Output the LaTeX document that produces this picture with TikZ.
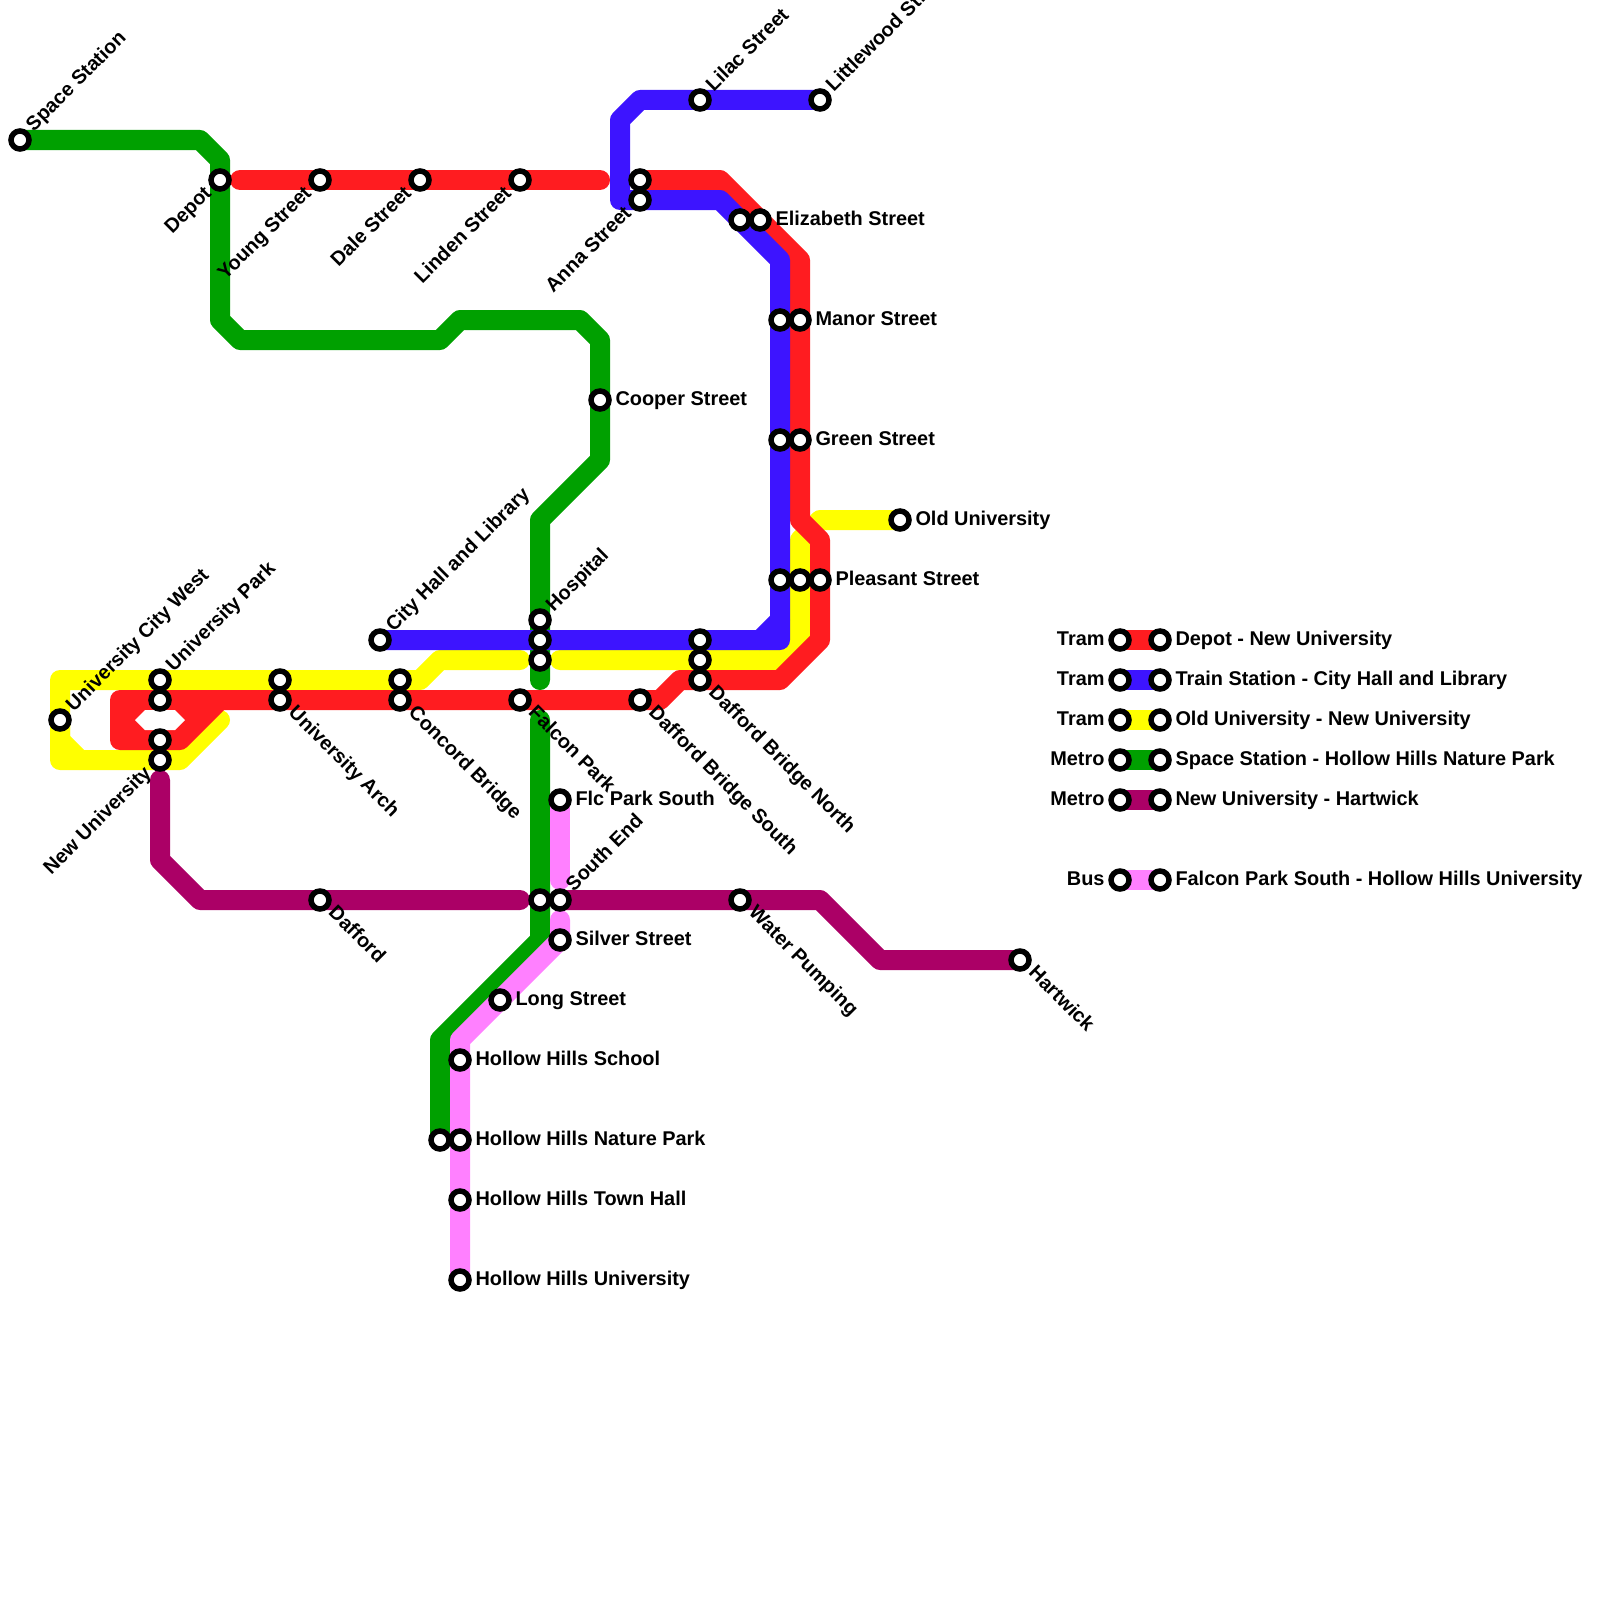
\documentclass[tikz,border=0pt]{standalone}
\usepackage{fontspec}
\setmainfont{Liberation Sans}
\pgfdeclarelayer{lines}
\pgfsetlayers{lines,main}
\tikzset{
  stn/.style={circle,draw=black,fill=white,line width=5.5pt,minimum size=18pt,inner sep=0pt},
  route/.style={line width=20pt,line cap=round,line join=round},
  lab/.style={font=\fontsize{19.9}{20}\selectfont\bfseries,inner sep=0pt,text=black},
  labE/.style={lab,xshift=15.3pt,yshift=-5.3pt,anchor=base west},
  labW/.style={lab,xshift=-15.3pt,yshift=-5.3pt,anchor=base east},
  labNE/.style={lab,xshift=13.8pt,yshift=7.6pt,rotate=45,anchor=base west},
  labSE/.style={lab,xshift=7.6pt,yshift=-13.8pt,rotate=-45,anchor=base west},
  labSW/.style={lab,xshift=-7.6pt,yshift=-14.2pt,rotate=45,anchor=base east},
}
\definecolor{cred}{HTML}{FF1C20}
\definecolor{cblue}{HTML}{3D14FF}
\definecolor{cyel}{HTML}{FFFF00}
\definecolor{cgreen}{HTML}{00A000}
\definecolor{cpurple}{HTML}{AB0066}
\definecolor{cpink}{HTML}{FF80FF}
\newcommand{\stt}[3]{\node[stn] (#1) at (#2,#3) {};}
\begin{document}
\begin{tikzpicture}[x=1pt,y=-1pt]
\useasboundingbox (0,0) rectangle (1600,1600);
\clip (0,0) rectangle (1600,1600);
% stations
\stt{space}{20}{140}
\stt{depot}{220}{180}
\stt{young}{320}{180}
\stt{dale}{420}{180}
\stt{linden}{520}{180}
\stt{annaA}{640}{180}
\stt{anna}{640}{200}
\stt{lilac}{700}{100}
\stt{little}{820}{100}
\stt{elizA}{740}{220}
\stt{eliz}{760}{220}
\stt{manorA}{780}{320}
\stt{manor}{800}{320}
\stt{greenA}{780}{440}
\stt{green}{800}{440}
\stt{olduni}{900}{520}
\stt{pleasA}{780}{580}
\stt{pleasB}{800}{580}
\stt{pleas}{820}{580}
\stt{cooper}{600}{400}
\stt{hosp}{540}{620}
\stt{hospB}{540}{640}
\stt{hospC}{540}{660}
\stt{dbnA}{700}{640}
\stt{dbnB}{700}{660}
\stt{dbn}{700}{680}
\stt{dbs}{640}{700}
\stt{falcon}{520}{700}
\stt{concA}{400}{680}
\stt{conc}{400}{700}
\stt{archA}{280}{680}
\stt{arch}{280}{700}
\stt{upark}{160}{680}
\stt{uparkB}{160}{700}
\stt{newuA}{160}{740}
\stt{newu}{160}{760}
\stt{ucw}{60}{720}
\stt{city}{380}{640}
\stt{flc}{560}{800}
\stt{southA}{540}{900}
\stt{south}{560}{900}
\stt{water}{740}{900}
\stt{hart}{1020}{960}
\stt{dafford}{320}{900}
\stt{silver}{560}{940}
\stt{long}{500}{1000}
\stt{school}{460}{1060}
\stt{natureA}{440}{1140}
\stt{nature}{460}{1140}
\stt{town}{460}{1200}
\stt{hhu}{460}{1280}
% legend stations
\foreach \n/\y in {a/640,b/680,c/720,d/760,e/800,f/880}{
  \node[stn] (leg\n L) at (1120,\y) {};
  \node[stn] (leg\n R) at (1160,\y) {};
}
% routes
\begin{pgfonlayer}{lines}
\draw[route,cyel] (olduni.center) -- (820,520) -- (800,540) -- (800,640) -- (780,660) -- (560,660);
\draw[route,cyel] (520,660) -- (440,660) -- (420,680) -- (60,680) -- (60,760) -- (180,760) -- (220,720);
\draw[route,cyel] (ucw.center) -- (60,740) -- (80,760);
\draw[route,cred] (240,180) -- (600,180);
\draw[route,cred] (annaA.center) -- (720,180) -- (800,260) -- (800,520) -- (820,540) -- (820,640) -- (780,680) -- (680,680) -- (660,700) -- (120,700) -- (120,740) -- (180,740) -- (220,700);
\fill[cred] (120,700) -- (220,700) -- (180,740) -- (120,740) -- cycle;
\fill[white] (135,720) -- (145,710) -- (175,710) -- (185,720) -- (175,730) -- (145,730) -- cycle;
\draw[route,cgreen] (space.center) -- (200,140) -- (220,160) -- (220,320) -- (240,340) -- (440,340) -- (460,320) -- (580,320) -- (600,340) -- (600,460) -- (540,520) -- (540,680);
\draw[route,cgreen] (540,720) -- (540,940) -- (440,1040) -- (natureA.center);
\draw[route,cblue] (little.center) -- (640,100) -- (620,120) -- (620,200) -- (720,200) -- (780,260) -- (780,640) -- (city.center);
\draw[route,cblue] (760,640) -- (780,620);
\draw[route,cpurple] (160,780) -- (160,860) -- (200,900) -- (520,900);
\draw[route,cpurple] (south.center) -- (820,900) -- (880,960) -- (hart.center);
\draw[route,cpink] (flc.center) -- (560,880);
\draw[route,cpink] (560,920) -- (560,940) -- (460,1040) -- (hhu.center);
\draw[line width=20pt,cred] (legaL.center) -- (legaR.center);
\draw[line width=20pt,cblue] (legbL.center) -- (legbR.center);
\draw[line width=20pt,cyel] (legcL.center) -- (legcR.center);
\draw[line width=20pt,cgreen] (legdL.center) -- (legdR.center);
\draw[line width=20pt,cpurple] (legeL.center) -- (legeR.center);
\draw[line width=20pt,cpink] (legfL.center) -- (legfR.center);
\end{pgfonlayer}
% labels
\node[labNE] (tspace) at (space.center) {Space Station};
\node[labNE] (tlilac) at (lilac.center) {Lilac Street};
\node[labNE] (tlittle) at (little.center) {Littlewood Street};
\node[labNE] (tucw) at (ucw.center) {University City West};
\node[labNE] (tupark) at (upark.center) {University Park};
\node[labNE] (tcity) at (city.center) {City Hall and Library};
\node[labNE] (thosp) at (hosp.center) {Hospital};
\node[labNE] (tsouth) at (south.center) {South End};
\node[labSE] (tarch) at (arch.center) {University Arch};
\node[labSE] (tconc) at (conc.center) {Concord Bridge};
\node[labSE] (tfalcon) at (falcon.center) {Falcon Park};
\node[labSE] (tdbs) at (dbs.center) {Dafford Bridge South};
\node[labSE] (tdbn) at (dbn.center) {Dafford Bridge North};
\node[labSE] (tdafford) at (dafford.center) {Dafford};
\node[labSE] (twater) at (water.center) {Water Pumping};
\node[labSE] (thart) at (hart.center) {Hartwick};
\node[labSW] (tdepot) at (depot.center) {Depot};
\node[labSW] (tyoung) at (young.center) {Young Street};
\node[labSW] (tdale) at (dale.center) {Dale Street};
\node[labSW] (tlinden) at (linden.center) {Linden Street};
\node[labSW] (tanna) at (anna.center) {Anna Street};
\node[labSW] (tnewu) at (newu.center) {New University};
\node[labE] (teliz) at (eliz.center) {Elizabeth Street};
\node[labE] (tmanor) at (manor.center) {Manor Street};
\node[labE] (tgreen) at (green.center) {Green Street};
\node[labE] (tolduni) at (olduni.center) {Old University};
\node[labE] (tpleas) at (pleas.center) {Pleasant Street};
\node[labE] (tcooper) at (cooper.center) {Cooper Street};
\node[labE] (tflc) at (flc.center) {Flc Park South};
\node[labE] (tsilver) at (silver.center) {Silver Street};
\node[labE] (tlong) at (long.center) {Long Street};
\node[labE] (tschool) at (school.center) {Hollow Hills School};
\node[labE] (tnature) at (nature.center) {Hollow Hills Nature Park};
\node[labE] (ttown) at (town.center) {Hollow Hills Town Hall};
\node[labE] (thhu) at (hhu.center) {Hollow Hills University};
\node[labW] (tlegaL) at (legaL.center) {Tram};
\node[labW] (tlegbL) at (legbL.center) {Tram};
\node[labW] (tlegcL) at (legcL.center) {Tram};
\node[labW] (tlegdL) at (legdL.center) {Metro};
\node[labW] (tlegeL) at (legeL.center) {Metro};
\node[labW] (tlegfL) at (legfL.center) {Bus};
\node[labE] (tlegaR) at (legaR.center) {Depot - New University};
\node[labE] (tlegbR) at (legbR.center) {Train Station - City Hall and Library};
\node[labE] (tlegcR) at (legcR.center) {Old University - New University};
\node[labE] (tlegdR) at (legdR.center) {Space Station - Hollow Hills Nature Park};
\node[labE] (tlegeR) at (legeR.center) {New University - Hartwick};
\node[labE] (tlegfR) at (legfR.center) {Falcon Park South - Hollow Hills University};
\end{tikzpicture}
\end{document}
